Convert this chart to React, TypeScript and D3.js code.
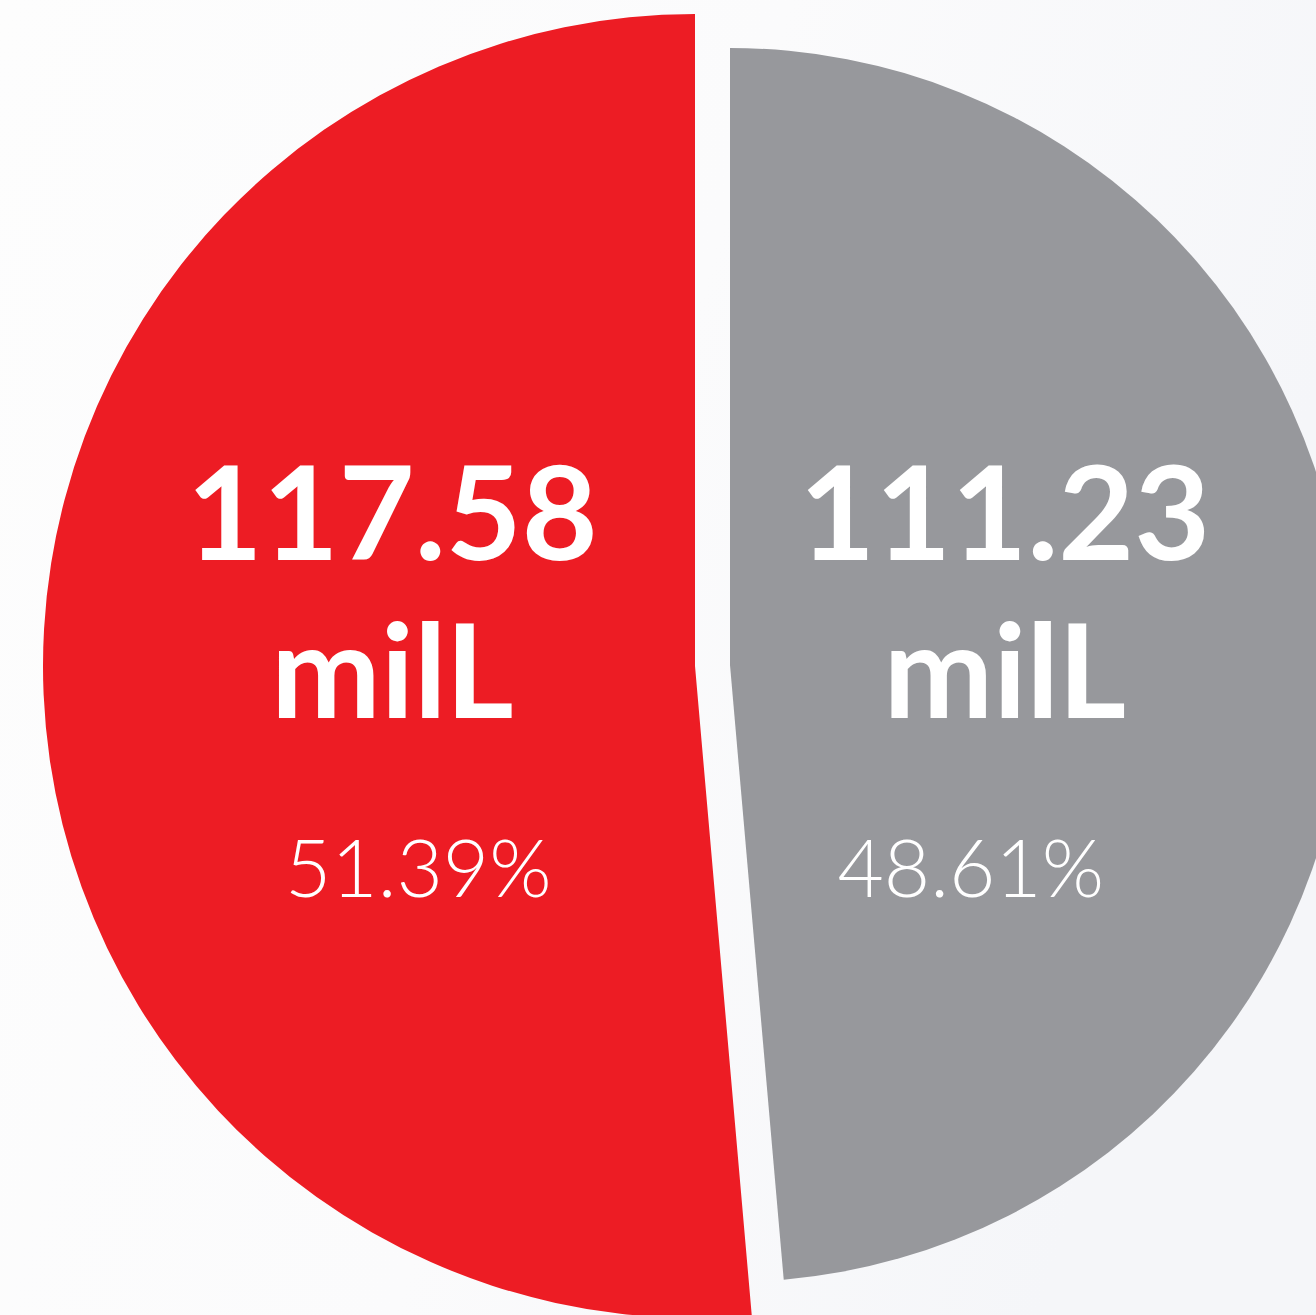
import * as d3 from 'd3';

// slice values in millions of litres, red slice first
const sliceNames = ['red', 'grey'];
const sliceValues = [117.58, 111.23];
const sliceUnit = 'milL';
const sliceColors = ['#ed1c24', '#97989c'];

const width = 1316;
const height = 1315;

// per-slice geometry: centre shift (explode) and radius
const sliceCenters = [
  { cx: 695, cy: 666, r: 652, labelR: 303, pctShift: 26 },
  { cx: 730, cy: 665, r: 617, labelR: 275, pctShift: -34 },
];

const bigFont = 'Lato, "Open Sans", sans-serif';

const App = () => {
  const total = d3.sum(sliceValues);
  // draw counter-clockwise from 12 o'clock so red sits on the left
  const pie = d3
    .pie<number>()
    .value((v) => v)
    .sort(null)
    .startAngle(2 * Math.PI)
    .endAngle(0);
  const slices = pie(sliceValues);

  return (
    <svg
      width={width}
      height={height}
      viewBox={`0 0 ${width} ${height}`}
      style={{ position: 'absolute', left: 0, top: 0, display: 'block' }}
    >
      <defs>
        <linearGradient id="bg" x1="0" y1="0" x2="1" y2="0.3">
          <stop offset="0" stopColor="#fdfdfd" />
          <stop offset="0.55" stopColor="#fbfbfc" />
          <stop offset="1" stopColor="#f5f6f9" />
        </linearGradient>
      </defs>
      <rect width={width} height={height} fill="url(#bg)" />
      {slices.map((slice, i) => {
        const geo = sliceCenters[i];
        const arc = d3.arc<d3.PieArcDatum<number>>().innerRadius(0).outerRadius(geo.r);
        const labelArc = d3
          .arc<d3.PieArcDatum<number>>()
          .innerRadius(geo.labelR)
          .outerRadius(geo.labelR);
        const [lx] = labelArc.centroid(slice);
        const pct = ((slice.data / total) * 100).toFixed(2);
        return (
          <g key={sliceNames[i]} transform={`translate(${geo.cx},${geo.cy})`}>
            <path d={arc(slice) || ''} fill={sliceColors[i]} />
            <text
              x={lx}
              y={560 - geo.cy}
              textAnchor="middle"
              fill="#fff"
              fontFamily={bigFont}
              fontWeight={700}
              fontSize={131}
            >
              {slice.data.toFixed(2)}
            </text>
            <text
              x={lx}
              y={718 - geo.cy}
              textAnchor="middle"
              fill="#fff"
              fontFamily={bigFont}
              fontWeight={700}
              fontSize={131}
            >
              {sliceUnit}
            </text>
            <text
              x={lx + geo.pctShift}
              y={897 - geo.cy}
              textAnchor="middle"
              fill="#fff"
              fontFamily={bigFont}
              fontWeight={300}
              fontSize={80}
            >
              {pct}%
            </text>
          </g>
        );
      })}
    </svg>
  );
};

export default App;
